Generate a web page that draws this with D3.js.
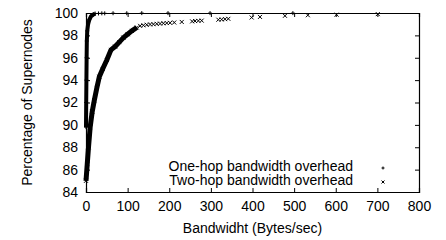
<!DOCTYPE html>
<html>
<head>
<meta charset="utf-8">
<script src="https://cdn.jsdelivr.net/npm/d3@7"></script>
<style>
  body { margin: 0; background: #fff; }
  text { font-family: "Liberation Sans", Arial, sans-serif; fill: #000; }
</style>
</head>
<body>
<figure id="chart" style="margin:0"></figure>
<script>
// one-hop: dense head of the CDF, then the sparse tail
const oneHopDense = [[0, 89.8], [0.5, 92], [1, 94], [1.5, 96], [2, 97.5], [3, 98.4], [5, 99.0], [8, 99.4], [12, 99.7], [17, 99.85], [22, 99.95]];
const oneHopTail = [[30, 99.96], [38, 99.97], [45, 99.97], [65, 99.98], [98, 99.98], [134, 99.99], [197, 99.99], [298, 99.99], [497, 99.99]];

// two-hop
const twoHopDense = [[0, 85.0], [3, 86.5], [6, 88], [10, 89.8], [15, 91.2], [20, 92.2], [26, 93.3], [32, 94.3], [40, 95.0], [50, 95.8], [60, 96.7], [70, 97.0], [80, 97.4], [90, 97.8], [100, 98.1], [110, 98.4], [122, 98.7]];
const twoHopTail = [[130, 98.85], [138, 98.9], [146, 98.95], [154, 98.98], [162, 99.0], [170, 99.03], [178, 99.05], [186, 99.08], [194, 99.1], [202, 99.12], [212, 99.15], [230, 99.2], [255, 99.25], [262, 99.28], [270, 99.3], [278, 99.32], [318, 99.4], [326, 99.42], [334, 99.45], [342, 99.48], [398, 99.6], [418, 99.65], [478, 99.75], [533, 99.8], [602, 99.85], [701, 99.9]];

const xTicks = [0, 100, 200, 300, 400, 500, 600, 700, 800];
const yTicks = [84, 86, 88, 90, 92, 94, 96, 98, 100];
const legendLabels = ["One-hop bandwidth overhead", "Two-hop bandwidth overhead"];

const width = 446, height = 240;
const margin = { top: 13, right: 27, bottom: 48, left: 86 };
const w = width - margin.left - margin.right;
const h = height - margin.top - margin.bottom;
const fs = "14px";

const svg = d3.select("#chart").append("svg")
  .attr("width", width)
  .attr("height", height);
const g = svg.append("g")
  .attr("transform", "translate(" + margin.left + "," + margin.top + ")");

const x = d3.scaleLinear().domain([0, 800]).range([0, w]);
const y = d3.scaleLinear().domain([84, 100]).range([h, 0]);

// axes with inward ticks, mirrored on top/right
const tk = 4;
g.append("g").attr("transform", "translate(0," + h + ")")
  .call(d3.axisBottom(x).tickValues(xTicks).tickSize(-tk).tickPadding(9));
g.append("g")
  .call(d3.axisTop(x).tickValues(xTicks).tickSize(-tk).tickFormat(""));
g.append("g")
  .call(d3.axisLeft(y).tickValues(yTicks).tickSize(-tk).tickPadding(8));
g.append("g").attr("transform", "translate(" + w + ",0)")
  .call(d3.axisRight(y).tickValues(yTicks).tickSize(-tk).tickFormat(""));

g.selectAll(".domain").attr("stroke", "#000").attr("stroke-width", 1.2);
g.selectAll(".tick line").attr("stroke", "#000");
g.selectAll(".tick text").style("font-size", fs).attr("fill", "#000");

const line = d3.line().x(d => x(d[0])).y(d => y(d[1]));

// markers
function plus(sel, pts, s) {
  sel.selectAll(null).data(pts).enter().append("path")
    .attr("d", d => "M" + (x(d[0]) - s) + "," + y(d[1]) + "h" + 2 * s +
      "M" + x(d[0]) + "," + (y(d[1]) - s) + "v" + 2 * s)
    .attr("stroke", "#000").attr("stroke-width", 1);
}
function cross(sel, pts, s) {
  sel.selectAll(null).data(pts).enter().append("path")
    .attr("d", d => "M" + (x(d[0]) - s) + "," + (y(d[1]) - s) + "l" + 2 * s + "," + 2 * s +
      "M" + (x(d[0]) - s) + "," + (y(d[1]) + s) + "l" + 2 * s + "," + (-2 * s))
    .attr("stroke", "#000").attr("stroke-width", 1);
}

g.append("path").datum(twoHopDense).attr("d", line)
  .attr("fill", "none").attr("stroke", "#000").attr("stroke-width", 5)
  .attr("stroke-linejoin", "round");
cross(g, twoHopDense, 2);
cross(g, twoHopTail, 2);

g.append("path").datum(oneHopDense).attr("d", line)
  .attr("fill", "none").attr("stroke", "#000").attr("stroke-width", 4)
  .attr("stroke-linejoin", "round");
plus(g, oneHopDense, 2);
plus(g, oneHopTail, 2);

// legend
const lg = g.append("g");
legendLabels.forEach((t, i) => {
  lg.append("text").attr("x", 267).attr("y", 158 + i * 14)
    .attr("text-anchor", "end").style("font-size", fs).text(t);
});
lg.append("path")
  .attr("d", "M295.5,155h3M297,153.5v3")
  .attr("stroke", "#000");
lg.append("path")
  .attr("d", "M295.5,167.5l3,3M295.5,170.5l3,-3")
  .attr("stroke", "#000");

// axis titles
svg.append("text")
  .attr("x", margin.left + w / 2).attr("y", 233)
  .attr("text-anchor", "middle").style("font-size", fs)
  .text("Bandwidht (Bytes/sec)");
svg.append("text")
  .attr("transform", "translate(32," + (margin.top + h / 2) + ") rotate(-90)")
  .attr("text-anchor", "middle").style("font-size", fs)
  .text("Percentage of Supernodes");
</script>
</body>
</html>
